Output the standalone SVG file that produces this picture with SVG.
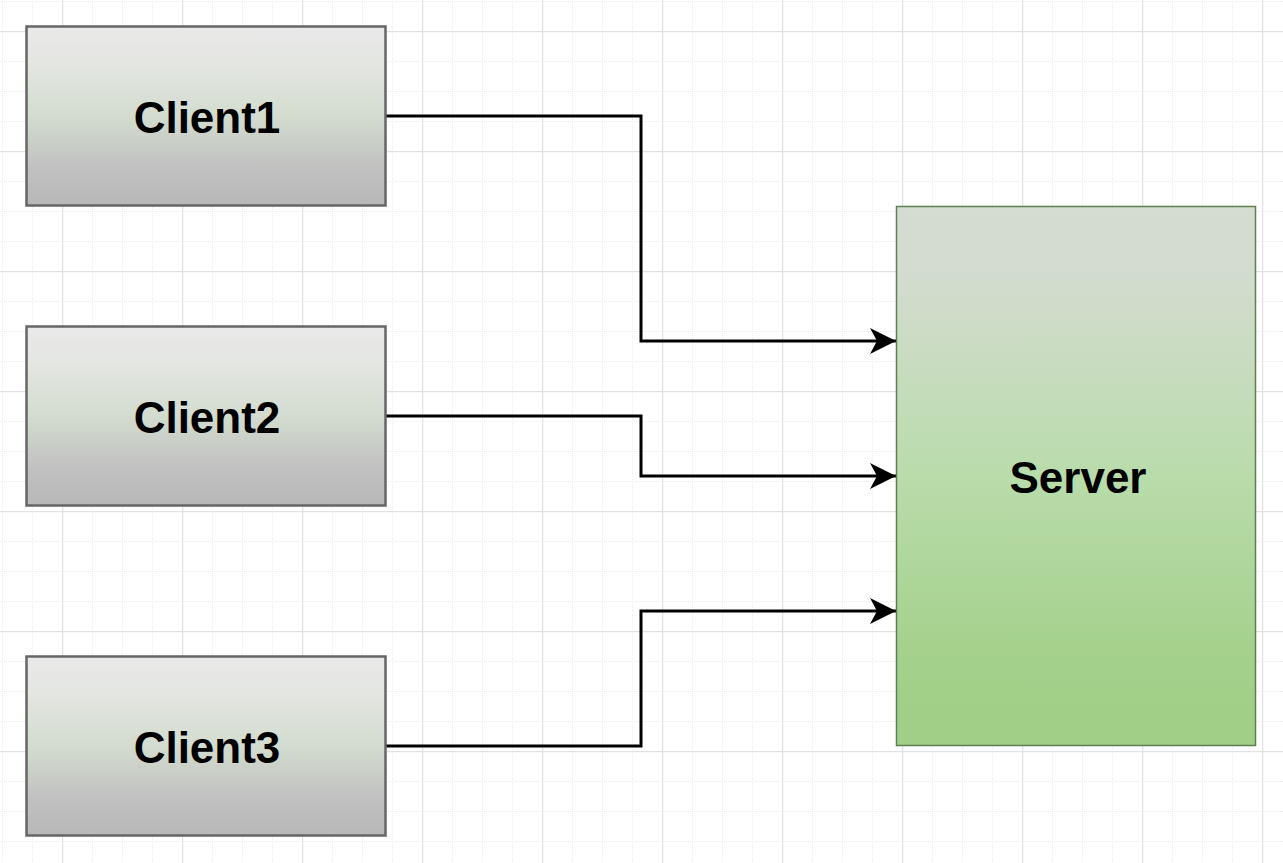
<svg xmlns="http://www.w3.org/2000/svg" width="1283" height="863" viewBox="0 0 1283 863">
  <defs>
    <pattern id="minor" x="2" y="1" width="30" height="30" patternUnits="userSpaceOnUse">
      <path d="M0.5 0 V30 M0 0.5 H30" fill="none" stroke="#ececec" stroke-width="1" stroke-dasharray="1 1"/>
    </pattern>
    <pattern id="major" x="62" y="31" width="120" height="120" patternUnits="userSpaceOnUse">
      <path d="M0.5 0 V120 M0 0.5 H120" fill="none" stroke="#e2e2e2" stroke-width="1.5"/>
    </pattern>
    <linearGradient id="gClient" x1="0" y1="0" x2="0" y2="1">
      <stop offset="0" stop-color="#e9e9e9"/>
      <stop offset="0.2" stop-color="#e4e6e2"/>
      <stop offset="0.5" stop-color="#d3dccf"/>
      <stop offset="0.8" stop-color="#c0c0c0"/>
      <stop offset="1" stop-color="#b8b8b8"/>
    </linearGradient>
    <linearGradient id="gServer" x1="0" y1="0" x2="0" y2="1">
      <stop offset="0" stop-color="#d5dcd2"/>
      <stop offset="0.15" stop-color="#d2dccd"/>
      <stop offset="0.5" stop-color="#b9dcab"/>
      <stop offset="0.85" stop-color="#a3d08a"/>
      <stop offset="1" stop-color="#a1cf87"/>
    </linearGradient>
    <marker id="arrow" viewBox="0 0 26 26" refX="26" refY="13" markerWidth="26" markerHeight="26" markerUnits="userSpaceOnUse" orient="auto">
      <path d="M0 0 L26 13 L0 26 L7 13 Z" fill="#000"/>
    </marker>
  </defs>
  <style>
    .client rect { fill: url(#gClient); stroke: #666666; stroke-width: 2.5; }
    .server rect { fill: url(#gServer); stroke: #5f7f52; stroke-width: 1.5; }
    .label { font-family: "Liberation Sans", Arial, Helvetica, sans-serif; font-weight: bold; font-size: 44px; fill: #000; text-anchor: middle; }
    .edge { fill: none; stroke: #000; stroke-width: 3; marker-end: url(#arrow); }
  </style>
  <rect x="0" y="0" width="1283" height="863" fill="#ffffff"/>
  <rect x="0" y="0" width="1283" height="863" fill="url(#minor)"/>
  <rect x="0" y="0" width="1283" height="863" fill="url(#major)"/>

  <g id="connectors">
    <path class="edge" d="M386 116 H641 V341 H896"/>
    <path class="edge" d="M386 416 H641 V476 H896"/>
    <path class="edge" d="M386 746 H641 V611 H896"/>
  </g>

  <g id="client1" class="client">
    <rect x="26.5" y="26.5" width="359" height="179"/>
    <text class="label" x="207" y="132.5">Client1</text>
  </g>
  <g id="client2" class="client">
    <rect x="26.5" y="326.5" width="359" height="179"/>
    <text class="label" x="207" y="432.5">Client2</text>
  </g>
  <g id="client3" class="client">
    <rect x="26.5" y="656.5" width="359" height="179"/>
    <text class="label" x="207" y="762.5">Client3</text>
  </g>
  <g id="server" class="server">
    <rect x="896.5" y="206.5" width="359" height="539"/>
    <text class="label" x="1078" y="493">Server</text>
  </g>
</svg>
